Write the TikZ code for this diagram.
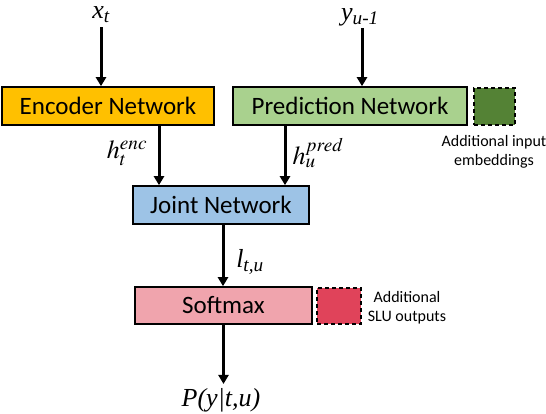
\documentclass[tikz,border=0pt]{standalone}
\usepackage{mathptmx}
\usepackage{fontspec}
\setmainfont{Carlito}
\newfontfamily\tms{Liberation Serif}
\usetikzlibrary{arrows.meta}

\definecolor{encfill}{HTML}{FFC000}
\definecolor{predfill}{HTML}{A9D18E}
\definecolor{embfill}{HTML}{548235}
\definecolor{jointfill}{HTML}{9DC3E6}
\definecolor{softfill}{HTML}{F0A4AD}
\definecolor{slufill}{HTML}{E0435A}

\begin{document}
\begin{tikzpicture}[
  x=1pt, y=-1pt,
  netbox/.style = {shape=rectangle, draw, line width=1.6pt, inner sep=0pt,
    minimum height=38pt, font=\fontsize{25}{30}\selectfont},
  extrabox/.style = {shape=rectangle, draw, dashed, line width=1.6pt,
    inner sep=0pt, dash pattern=on 4pt off 3pt},
  var/.style = {inner sep=0pt, font=\fontsize{26}{30}\selectfont\tms\itshape},
  note/.style = {align=center, inner sep=0pt, font=\fontsize{16}{19}\selectfont},
  flow/.style = {line width=3pt, -{Triangle[width=10pt,length=9pt]}}
  ]
  \useasboundingbox (0,0) rectangle (546,414);

  % inputs
  \node[var] (xt) at (101,15) {x\textsubscript{t}};
  \node[var] (yu) at (360,17) {y\textsubscript{u-1}};

  % networks
  \node[netbox, fill=encfill, minimum width=212pt] (enc) at (108,106) {Encoder Network};
  \node[netbox, fill=predfill, minimum width=234pt] (pred) at (350,106) {Prediction Network};
  \node[extrabox, fill=embfill, minimum width=41pt, minimum height=37pt] (emb) at (494.5,106.5) {};
  \node[note] (embtxt) at (494,152) {Additional input\\embeddings};

  \node[netbox, fill=jointfill, minimum width=176pt] (joint) at (221,205) {Joint Network};
  \node[netbox, fill=softfill, minimum width=177pt, minimum height=37pt] (soft) at (223.5,305.5) {Softmax};
  \node[extrabox, fill=slufill, minimum width=44pt, minimum height=36pt] (slu) at (339,306) {};
  \node[note] (slutxt) at (407,308) {Additional\\SLU outputs};

  % labels on the connectors
  \node[var] (henc) at (127,153) {$h_t^{enc}$};
  \node[var] (hpred) at (318,153) {$h_u^{pred}$};
  \node[var] (ltu) at (250,262) {l\textsubscript{t,u}};

  % outputs
  \node[var] (out) at (221,400) {P(y|t,u)};

  % arrows
  \draw[flow] ([yshift=-4pt]xt.south) -- (xt.south |- enc.north);
  \draw[flow] ([xshift=2pt,yshift=-2pt]yu.south) -- ([xshift=2pt]yu.south |- pred.north);
  \draw[flow] ([xshift=51pt]enc.south) -- ([xshift=51pt]enc.south |- joint.north);
  \draw[flow] ([xshift=-65pt]pred.south) -- ([xshift=-65pt]pred.south |- joint.north);
  \draw[flow] ([xshift=2pt]joint.south) -- ([xshift=2pt]joint.south |- soft.north);
  \draw[flow] (soft.south) -- ([yshift=4pt]soft.south |- out.north);
\end{tikzpicture}
\end{document}
